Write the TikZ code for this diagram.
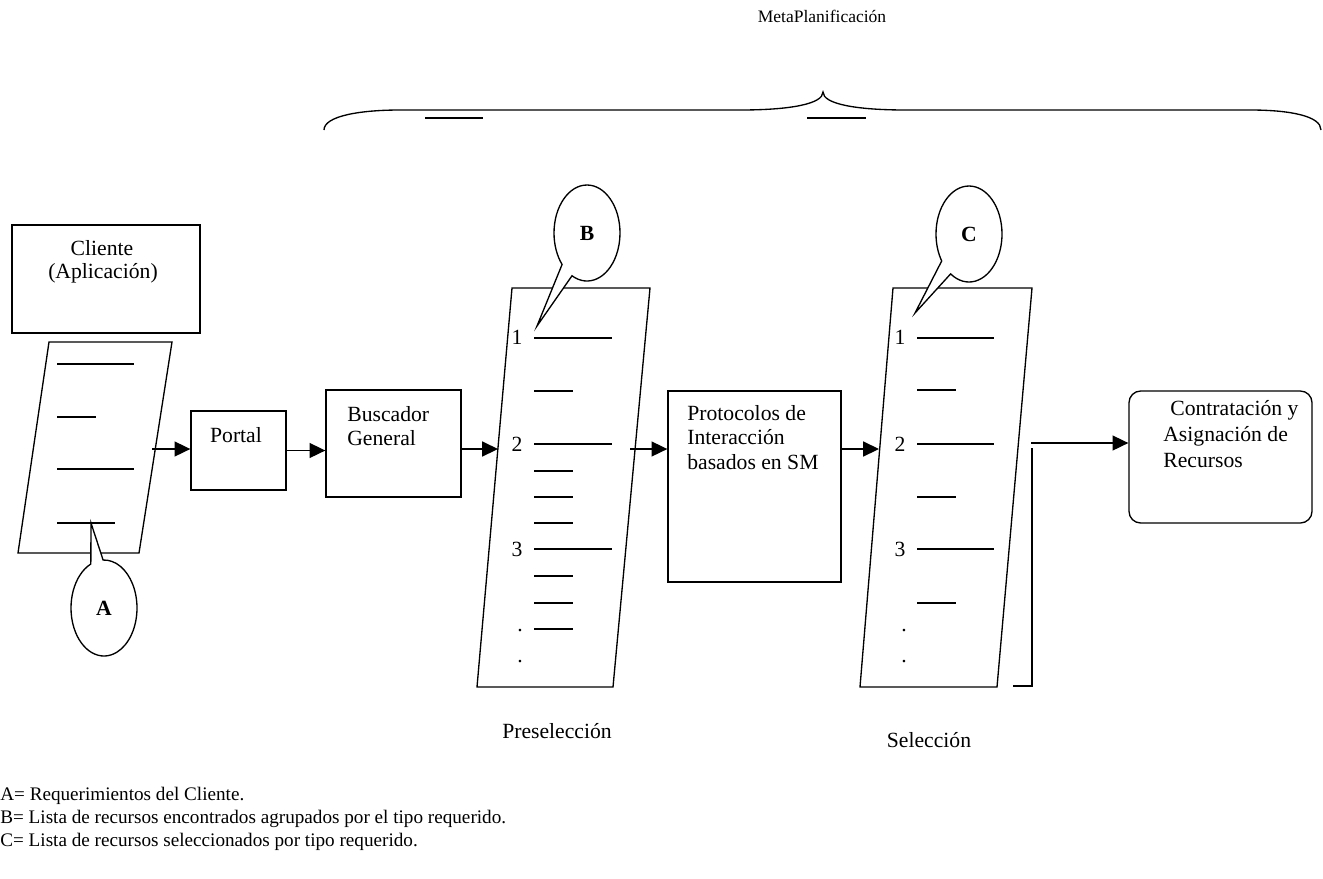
\documentclass[tikz,border=0pt]{standalone}
\usepackage{fontspec}
\setmainfont{Liberation Serif}
\usetikzlibrary{arrows.meta,shapes.callouts}
\begin{document}
\begin{tikzpicture}[x=0.6pt,y=-0.6pt,
  every node/.style={font=\fontsize{13}{15}\selectfont, inner sep=0pt},
  box/.style={draw, line width=0.8pt, rectangle},
  arr/.style={line width=0.8pt, -{Triangle[length=9.5pt,width=9pt]}},
  ln/.style={line width=0.8pt},
  txt/.style={anchor=base west},
  ctxt/.style={anchor=base},
  bubble/.style={ellipse callout, draw, fill=white, line width=0.8pt,
     minimum width=39.6pt, minimum height=57.6pt, callout pointer arc=22,
     font=\fontsize{13}{15}\selectfont\bfseries},
  legend/.style={anchor=base west, font=\fontsize{11.5}{14}\selectfont}]
\useasboundingbox (0,0) rectangle (1323,878);

% title and brace
\node[ctxt, font=\fontsize{10.5}{12}\selectfont] (meta) at (822,22) {MetaPlanificación};
\draw[ln] (324,130) .. controls (324,116) and (360,110) .. (400,110) -- (740,110)
  .. controls (790,110) and (823,104) .. (823,92)
  .. controls (823,104) and (856,110) .. (906,110) -- (1250,110)
  .. controls (1290,110) and (1321,116) .. (1321,130);
\draw[ln] (425,118) -- (483,118);
\draw[ln] (807,118) -- (866,118);

% Cliente
\node[box, minimum width=112.8pt, minimum height=64.8pt] (cliente) at (106,279) {};
\node[ctxt] (cl1) at (102,255) {Cliente};
\node[ctxt] (cl2) at (103,278) {(Aplicación)};

% list A
\draw[ln] (49,342) -- (172,342) -- (139,553) -- (18,553) -- cycle;
\draw[ln] (57,364) -- (134,364);
\draw[ln] (57,417) -- (96,417);
\draw[ln] (57,469) -- (134,469);
\draw[ln] (57,523) -- (115,523);
\coordinate (aout) at (152,449);
\coordinate (tA) at (91,523);

% Portal
\node[box, minimum width=57pt, minimum height=47.4pt] (portal) at (238.5,450.5) {};
\node[ctxt] (portaltxt) at (236,442) {Portal};

% Buscador
\node[box, minimum width=81pt, minimum height=64.2pt] (busc) at (393.5,443.5) {};
\node[txt] (b1) at (347,421) {Buscador};
\node[txt] (b2) at (347,445) {General};

% list B
\draw[ln] (512,288) -- (650,288) -- (613,687) -- (477,687) -- cycle;
\foreach \yy in {338,444,549} {\draw[ln] (534,\yy) -- (612,\yy);}
\foreach \yy in {391,471,497,523,576,603,629} {\draw[ln] (534,\yy) -- (573,\yy);}
\node[ctxt] (bn1) at (517,344) {1};
\node[ctxt] (bn2) at (517,451) {2};
\node[ctxt] (bn3) at (517,556) {3};
\node[ctxt] (bd1) at (520,631) {.};
\node[ctxt] (bd2) at (520,662) {.};
\coordinate (bin) at (498,449);
\coordinate (bout) at (630,449);
\coordinate (tB) at (537,326);

% Protocolos
\node[box, minimum width=103.8pt, minimum height=114.6pt] (proto) at (754.5,486.5) {};
\node[txt] (p1) at (687,420) {Protocolos de};
\node[txt] (p2) at (687,444) {Interacción};
\node[txt] (p3) at (687,469) {basados en SM};

% list C
\draw[ln] (893,288) -- (1032,288) -- (997,687) -- (860,687) -- cycle;
\foreach \yy in {338,444,549} {\draw[ln] (917,\yy) -- (994,\yy);}
\foreach \yy in {390,497,603} {\draw[ln] (917,\yy) -- (956,\yy);}
\node[ctxt] (cn1) at (900,344) {1};
\node[ctxt] (cn2) at (900,451) {2};
\node[ctxt] (cn3) at (900,556) {3};
\node[ctxt] (cd1) at (904,631) {.};
\node[ctxt] (cd2) at (904,662) {.};
\coordinate (cin) at (879,449);
\coordinate (cout) at (1031,443);
\coordinate (tC) at (915,313);
\coordinate (brtop) at (1032,448);
\coordinate (brbot) at (1032,686);
\coordinate (brfoot) at (1013,686);
\draw[ln] (brfoot) -- (brbot) -- (brtop);

% Contratacion
\node[box, rounded corners=7pt, minimum width=109.8pt, minimum height=79.2pt] (contr) at (1220.5,457) {};
\node[txt] (c1) at (1170,415) {Contratación y};
\node[txt] (c2) at (1163,441) {Asignación de};
\node[txt] (c3) at (1163,467) {Recursos};

% arrows
\draw[arr] (aout) -- (aout -| portal.west);
\draw[arr] (portal.east) -- (portal.east -| busc.west);
\draw[arr] (busc.east |- bin) -- (bin);
\draw[arr] (bout) -- (bout -| proto.west);
\draw[arr] (proto.east |- cin) -- (cin);
\draw[arr] (cout) -- (cout -| contr.west);

% callouts
\node[bubble, callout absolute pointer={(tA)}] (cA) at (104,608) {A};
\node[bubble, callout absolute pointer={(tB)}] (cB) at (587,233) {B};
\node[bubble, callout absolute pointer={(tC)}] (cC) at (969,234) {C};

% captions
\node[ctxt] (presel) at (557,738) {Preselección};
\node[ctxt] (sel) at (929,747) {Selección};

% legend
\node[legend] (la) at (0,800) {A= Requerimientos del Cliente.};
\node[legend] (lb) at (0,823) {B= Lista de recursos encontrados agrupados por el tipo requerido.};
\node[legend] (lc) at (0,846) {C= Lista de recursos seleccionados por tipo requerido.};
\end{tikzpicture}
\end{document}
